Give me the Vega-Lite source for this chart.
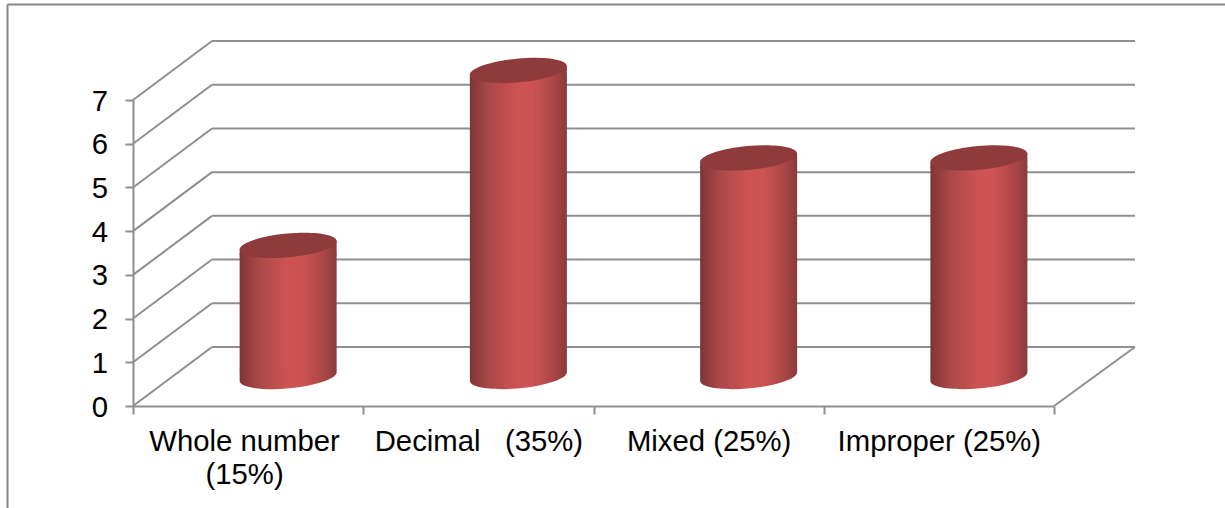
{
  "$schema": "https://vega.github.io/schema/vega-lite/v6.json",
  "width": 921,
  "height": 306,
  "autosize": "none",
  "padding": {"left": 133, "top": 100, "right": 171, "bottom": 102},
  "background": "white",
  "view": {"stroke": null},
  "config": {"font": "Liberation Sans"},
  "datasets": {
    "levels": [{"level":0},{"level":1},{"level":2},{"level":3},{"level":4},{"level":5},{"level":6},{"level":7}],
    "scores": [
      {"category":"Whole number (15%)","value":3},
      {"category":"Decimal\u00a0\u00a0 (35%)","value":7},
      {"category":"Mixed (25%)","value":5},
      {"category":"Improper (25%)","value":5}
    ]
  },
  "layer": [
    {
      "layer": [
        {
          "data": {"name": "levels"},
          "mark": {"type":"rule","color":"#8f8f8f","strokeWidth":2,"x2Offset":79,"y2Offset":-59},
          "encoding": {
            "x": {"datum":0,"type":"quantitative","scale":{"domain":[0,4]},"axis":null},
            "x2": {"datum":0},
            "y": {"field":"level","type":"quantitative","scale":{"domain":[0,7],"nice":false},"axis":{"values":[0,1,2,3,4,5,6,7],"title":null,"grid":false,"domainColor":"#8f8f8f","domainWidth":2,"tickColor":"#8f8f8f","tickWidth":2,"tickSize":8,"labelFontSize":29.3,"labelColor":"#000000","labelPadding":17.5,"labelOffset":1,"labelFont":"Liberation Sans","labelFlush":false,"labelOverlap":false}},
            "y2": {"field":"level"}
          }
        },
        {
          "data": {"name": "levels"},
          "mark": {"type":"rule","color":"#8f8f8f","strokeWidth":2,"xOffset":79,"x2Offset":81,"yOffset":-59,"y2Offset":-59},
          "encoding": {
            "x": {"datum":0,"type":"quantitative","axis":null},
            "x2": {"datum":4},
            "y": {"field":"level","type":"quantitative"},
            "y2": {"field":"level"}
          }
        },
        {
          "data": {"values":[{"level":0}]},
          "mark": {"type":"rule","color":"#8f8f8f","strokeWidth":2,"x2Offset":81,"y2Offset":-59},
          "encoding": {
            "x": {"datum":4,"type":"quantitative","axis":null},
            "x2": {"datum":4},
            "y": {"field":"level","type":"quantitative"},
            "y2": {"field":"level"}
          }
        },
        {
          "data": {"values":[{}]},
          "mark": {"type":"rule","color":"#878787","strokeWidth":2},
          "encoding": {
            "x": {"datum":-0.545,"type":"quantitative","axis":null},
            "y": {"datum":9.185,"type":"quantitative"},
            "y2": {"datum":-2.4}
          }
        },
        {
          "data": {"values":[{}]},
          "mark": {"type":"rule","color":"#878787","strokeWidth":2},
          "encoding": {
            "x": {"datum":-0.545,"type":"quantitative","axis":null},
            "x2": {"datum":4.8},
            "y": {"datum":9.185,"type":"quantitative"}
          }
        }
      ]
    },
    {
      "data": {"name": "scores"},
      "encoding": {
        "x": {
          "field":"category","type":"nominal","sort":null,
          "scale":{"type":"band","paddingInner":0,"paddingOuter":0},
          "axis":{"title":null,"tickBand":"extent","labelAngle":0,"labelFontSize":29.3,"labelColor":"#000000","labelFont":"Liberation Sans","labelLimit":500,"labelPadding":13,"labelLineHeight":33,"labelOverlap":false,"labelFlush":false,"labelBaseline":"top","domainColor":"#8f8f8f","domainWidth":2,"tickColor":"#8f8f8f","tickWidth":2,"tickSize":8,
            "labelExpr":"indexof(datum.label,'Whole')==0 ? ['Whole number\u00a0\u200d','(15%)\u00a0\u200d'] : datum.label"}
        }
      },
      "layer": [
        {
          "mark": {"type":"point","filled":true,"opacity":1,"size":9409,"xOffset":40,"yOffset":-29.5,
            "shape":"M-1,-0.15 L1,-0.15 L1,-0.093 A1.0043,0.245,-5.3,0,1,-1,0.093 Z",
            "color":{"gradient":"linear","x1":0,"x2":1,"y1":0,"y2":0,"stops":[{"offset":0,"color":"#7e3535"},{"offset":0.2,"color":"#ab4848"},{"offset":0.5,"color":"#cd5453"},{"offset":0.65,"color":"#cb5352"},{"offset":0.88,"color":"#a84646"},{"offset":1,"color":"#8a3a3a"}]}},
          "encoding": {"y":{"datum":0,"type":"quantitative"}}
        },
        {
          "mark": {"type":"bar","width":97,"xOffset":40,"yOffset":-21,"y2Offset":-36,
            "color":{"gradient":"linear","x1":0,"x2":1,"y1":0,"y2":0,"stops":[{"offset":0,"color":"#7e3535"},{"offset":0.2,"color":"#ab4848"},{"offset":0.5,"color":"#cd5453"},{"offset":0.65,"color":"#cb5352"},{"offset":0.88,"color":"#a84646"},{"offset":1,"color":"#8a3a3a"}]}},
          "encoding": {"y":{"field":"value","type":"quantitative"},"y2":{"datum":0}}
        },
        {
          "mark": {"type":"point","filled":true,"opacity":1,"size":9409,"xOffset":40,"yOffset":-29.5,
            "shape":"M-1,0.093 L1,-0.093 L1,0.2 L-1,0.2 Z",
            "color":{"gradient":"linear","x1":0,"x2":1,"y1":0,"y2":0,"stops":[{"offset":0,"color":"#7e3535"},{"offset":0.2,"color":"#ab4848"},{"offset":0.5,"color":"#cd5453"},{"offset":0.65,"color":"#cb5352"},{"offset":0.88,"color":"#a84646"},{"offset":1,"color":"#8a3a3a"}]}},
          "encoding": {"y":{"field":"value","type":"quantitative"}}
        },
        {
          "mark": {"type":"point","filled":true,"opacity":1,"size":9409,"xOffset":40,"yOffset":-29.5,"color":"#8f3b3b",
            "shape":"M-1,0.093 A1.0043,0.245,-5.3,1,1,1,-0.093 A1.0043,0.245,-5.3,1,1,-1,0.093 Z"},
          "encoding": {"y":{"field":"value","type":"quantitative"}}
        }
      ]
    }
  ],
  "resolve": {"scale": {"x": "independent"}}
}
